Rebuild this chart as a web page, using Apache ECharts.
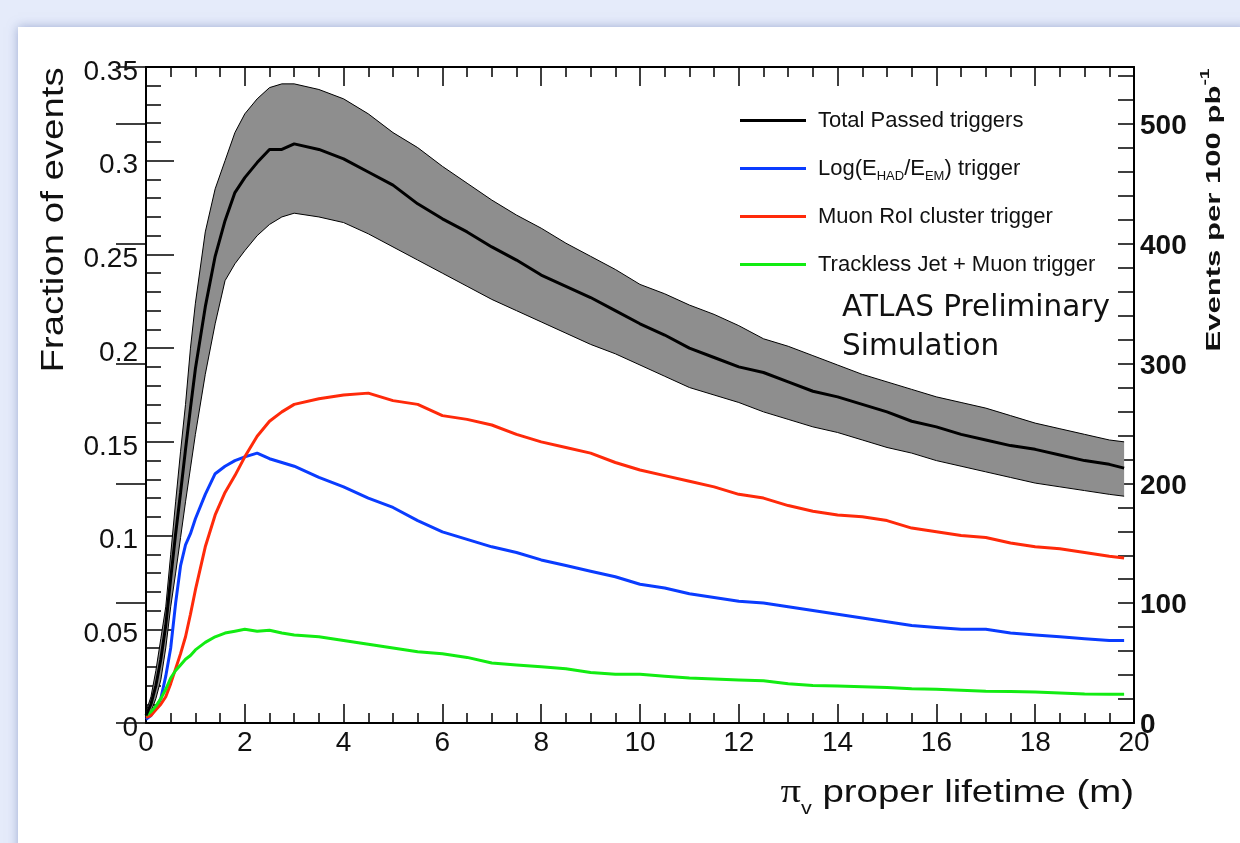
<!DOCTYPE html>
<html><head><meta charset="utf-8">
<script src="https://cdn.jsdelivr.net/npm/echarts@6/dist/echarts.min.js"></script>
<style>
html,body{margin:0;padding:0;width:1240px;height:843px;overflow:hidden;background:#e5ebfa;}
#panel{position:absolute;left:18px;top:27px;width:1230px;height:830px;background:#fff;box-shadow:0 0 10px rgba(110,130,185,0.6);}
#chart{position:absolute;left:0;top:0;width:1240px;height:843px;}
</style></head><body><div id="panel"></div><div id="chart"></div>
<script>
// pi_v proper lifetime (m)
const xs = [0,0.1,0.2,0.3,0.4,0.5,0.6,0.7,0.8,0.9,1.0,1.2,1.4,1.6,1.8,2.0,2.25,2.5,2.75,3.0,
  3.5,4.0,4.5,5.0,5.5,6.0,6.5,7.0,7.5,8.0,8.5,9.0,9.5,10.0,10.5,11.0,11.5,12.0,12.5,13.0,13.5,
  14.0,14.5,15.0,15.5,16.0,16.5,17.0,17.5,18.0,18.5,19.0,19.5,19.8];
const totalPassed = [0.004,0.010,0.020,0.034,0.052,0.077,0.101,0.123,0.146,0.168,0.189,
  0.222,0.249,0.268,0.283,0.291,0.299,0.306,0.306,0.309,
  0.306,0.301,0.294,0.287,0.277,0.269,0.262,0.254,0.247,0.239,0.233,0.227,0.220,0.213,0.207,0.200,0.195,
  0.190,0.187,0.182,0.177,0.174,0.170,0.166,0.161,0.158,0.154,0.151,0.148,0.146,0.143,0.140,0.138,0.136];
const totalUpper = [0.006,0.014,0.028,0.045,0.062,0.090,0.118,0.145,0.170,0.200,0.224,
  0.262,0.285,0.300,0.315,0.325,0.333,0.339,0.341,0.341,
  0.338,0.333,0.325,0.315,0.307,0.297,0.288,0.279,0.271,0.264,0.256,0.249,0.242,0.234,0.229,0.223,0.218,
  0.212,0.205,0.201,0.196,0.191,0.186,0.182,0.178,0.174,0.171,0.168,0.164,0.160,0.157,0.154,0.151,0.150];
const totalLower = [0.002,0.006,0.013,0.023,0.040,0.062,0.080,0.099,0.118,0.136,0.154,
  0.186,0.213,0.236,0.245,0.252,0.260,0.266,0.270,0.272,
  0.270,0.267,0.261,0.254,0.247,0.240,0.233,0.226,0.220,0.214,0.208,0.202,0.197,0.191,0.185,0.179,0.175,
  0.171,0.166,0.162,0.158,0.155,0.151,0.147,0.144,0.140,0.137,0.134,0.131,0.128,0.126,0.124,0.122,0.121];
const logTrigger = [0.002,0.004,0.008,0.013,0.025,0.040,0.064,0.084,0.095,0.101,0.109,
  0.122,0.133,0.137,0.140,0.142,0.144,0.141,0.139,0.137,
  0.131,0.126,0.120,0.115,0.108,0.102,0.098,0.094,0.091,0.087,0.084,0.081,0.078,0.074,0.072,0.069,0.067,
  0.065,0.064,0.062,0.060,0.058,0.056,0.054,0.052,0.051,0.050,0.050,0.048,0.047,0.046,0.045,0.044,0.044];
const muonRoI = [0.003,0.004,0.007,0.010,0.014,0.021,0.029,0.037,0.046,0.058,0.071,
  0.094,0.111,0.123,0.132,0.142,0.153,0.161,0.166,0.170,
  0.173,0.175,0.176,0.172,0.170,0.164,0.162,0.159,0.154,0.150,0.147,0.144,0.139,0.135,0.132,0.129,0.126,
  0.122,0.120,0.116,0.113,0.111,0.110,0.108,0.104,0.102,0.100,0.099,0.096,0.094,0.093,0.091,0.089,0.088];
const tracklessJet = [0.004,0.006,0.009,0.013,0.018,0.024,0.028,0.031,0.034,0.036,0.039,
  0.043,0.046,0.048,0.049,0.050,0.049,0.0495,0.048,0.047,
  0.046,0.044,0.042,0.040,0.038,0.037,0.035,0.032,0.031,0.030,0.029,0.027,0.026,0.026,0.025,0.024,0.0235,
  0.023,0.0225,0.021,0.020,0.0197,0.0194,0.019,0.0183,0.018,0.0175,0.017,0.0168,0.0165,0.016,0.0155,0.0153,0.0153];
const xTicks = [0,2,4,6,8,10,12,14,16,18,20];
const leftTicks = [0,0.05,0.1,0.15,0.2,0.25,0.3,0.35];
const rightTicks = [0,100,200,300,400,500];
const rightMax = 547.6; // events per 100 pb^-1 at fraction 0.35
const seriesNames = ['Total Passed triggers','Log(E_HAD/E_EM) trigger','Muon RoI cluster trigger','Trackless Jet + Muon trigger'];

const pairs = arr => xs.map((x,i)=>[x,arr[i]]);

const FONT = 'Liberation Sans';
const tickStyle = {color:'#000', width:1.5};
function xAx(pos){
  return {type:'value', min:0, max:20, interval:2, position:pos,
    axisLine:{show:true, onZero:false, lineStyle:{color:'#000', width:2}},
    axisTick:{show:true, inside:true, length:19, lineStyle:tickStyle},
    minorTick:{show:true, splitNumber:4, length:10, lineStyle:tickStyle},
    splitLine:{show:false},
    axisLabel:{show:pos==='bottom', fontSize:28, fontFamily:FONT, color:'#111', margin:6,
      customValues: xTicks}};
}
const chart = echarts.init(document.getElementById('chart'), null, {renderer:'canvas'});
const legendRich = {
  n:{fontSize:22, fontFamily:FONT, color:'#111', lineHeight:29},
  s:{fontSize:13, fontFamily:FONT, color:'#111', lineHeight:13, padding:[16,0,0,0]}
};
chart.setOption({
  animation:false,
  backgroundColor:'transparent',
  grid:{left:146, right:106, top:67, bottom:120, containLabel:false},
  legend:{
    orient:'vertical', left:740, top:106, padding:0, itemWidth:66, itemHeight:3, icon:'rect', itemGap:19,
    data:seriesNames,
    textStyle:{fontSize:22, fontFamily:FONT, color:'#111', lineHeight:29, padding:[0,0,0,7], rich:legendRich},
    formatter:function(name){
      if(name===seriesNames[1]) return '{n|Log(E}{s|HAD}{n|/E}{s|EM}{n|) trigger}';
      return '{n|'+name+'}';
    }
  },
  xAxis:[xAx('bottom'), xAx('top')],
  yAxis:[
    {type:'value', min:0, max:0.35, interval:0.05, position:'left',
      axisLine:{show:true, onZero:false, lineStyle:{color:'#000', width:2}},
      axisTick:{show:true, inside:true, length:28, lineStyle:tickStyle},
      minorTick:{show:true, splitNumber:5, length:15, lineStyle:tickStyle},
      splitLine:{show:false},
      axisLabel:{margin:8, customValues:leftTicks,
        formatter:function(v){ return '{a|' + v + '}'; },
        rich:{a:{fontSize:28, fontFamily:FONT, color:'#111', lineHeight:28, padding:[10,0,0,0]}}}},
    {type:'value', min:0, max:rightMax, interval:20, position:'right',
      axisLine:{show:true, onZero:false, lineStyle:{color:'#000', width:2}},
      axisTick:{show:true, inside:true, length:16, lineStyle:tickStyle},
      splitLine:{show:false},
      axisLabel:{show:false}},
    {type:'value', min:0, max:rightMax, interval:100, position:'right',
      axisLine:{show:false},
      axisTick:{show:true, inside:true, length:30, lineStyle:tickStyle},
      splitLine:{show:false},
      axisLabel:{margin:6, customValues:rightTicks,
        formatter:function(v){ return '{a|' + v + '}'; },
        rich:{a:{fontSize:28, fontWeight:'bold', fontFamily:FONT, color:'#111', lineHeight:28, padding:[5,0,0,0]}}}}
  ],
  series:[
    {name:'band', type:'custom', silent:true, z:1, clip:true,
      data: xs.map((x,i)=>[x,totalLower[i],totalUpper[i]]),
      encode:{x:0, y:[1,2]},
      renderItem:function(params, api){
        if(params.dataIndex !== 0) return null;
        const pts = [];
        for(let i=0;i<xs.length;i++) pts.push(api.coord([xs[i], totalUpper[i]]));
        for(let i=xs.length-1;i>=0;i--) pts.push(api.coord([xs[i], totalLower[i]]));
        return {type:'polygon', shape:{points:pts}, style:{fill:'#8e8e8e', stroke:null}};
      }},
    {name:'band upper', type:'line', data:pairs(totalUpper), symbol:'none', silent:true,
      lineStyle:{color:'#000', width:1}, z:2},
    {name:'band lower', type:'line', data:pairs(totalLower), symbol:'none', silent:true,
      lineStyle:{color:'#000', width:1}, z:2},
    {name:seriesNames[1], type:'line', data:pairs(logTrigger), symbol:'none', color:'#0a3cff',
      lineStyle:{width:3}, z:3},
    {name:seriesNames[2], type:'line', data:pairs(muonRoI), symbol:'none', color:'#ff2a0a',
      lineStyle:{width:3}, z:3},
    {name:seriesNames[3], type:'line', data:pairs(tracklessJet), symbol:'none', color:'#12ec12',
      lineStyle:{width:3}, z:3},
    {name:seriesNames[0], type:'line', data:pairs(totalPassed), symbol:'none', color:'#000',
      lineStyle:{width:3}, z:4}
  ],
  graphic:[
    {type:'text', x:54, y:220, z:100, rotation:Math.PI/2, scaleX:1.2, silent:true,
      style:{text:'Fraction of events', font:'32px "Liberation Sans"', fill:'#111', align:'center', verticalAlign:'middle'}},
    {type:'text', x:1214, y:210, z:100, rotation:Math.PI/2, scaleX:1.48, silent:true,
      style:{text:'{b|Events per 100 pb}{sup|-1}', align:'center', verticalAlign:'middle',
        rich:{b:{font:'bold 21px "Liberation Sans"', fill:'#111', lineHeight:21},
              sup:{font:'bold 13px "Liberation Sans"', fill:'#111', lineHeight:13, padding:[0,0,18,0]}}}},
    {type:'text', x:1134, y:793, z:100, scaleX:1.2, silent:true,
      style:{text:'{p|π}{s|v}{t| proper lifetime (m)}', align:'right', verticalAlign:'middle',
        rich:{p:{font:'34px "Liberation Serif"', fill:'#111', lineHeight:32},
              s:{font:'18px "Liberation Sans"', fill:'#111', lineHeight:18, padding:[32,0,0,0]},
              t:{font:'32px "Liberation Sans"', fill:'#111', lineHeight:32}}}},
    {type:'text', x:842, y:308, z:100, silent:true,
      style:{text:'ATLAS Preliminary', font:'29.5px "DejaVu Sans"', fill:'#111', align:'left', verticalAlign:'middle'}},
    {type:'text', x:842, y:347, z:100, silent:true,
      style:{text:'Simulation', font:'29.5px "DejaVu Sans"', fill:'#111', align:'left', verticalAlign:'middle'}}
  ]
});
</script></body></html>
